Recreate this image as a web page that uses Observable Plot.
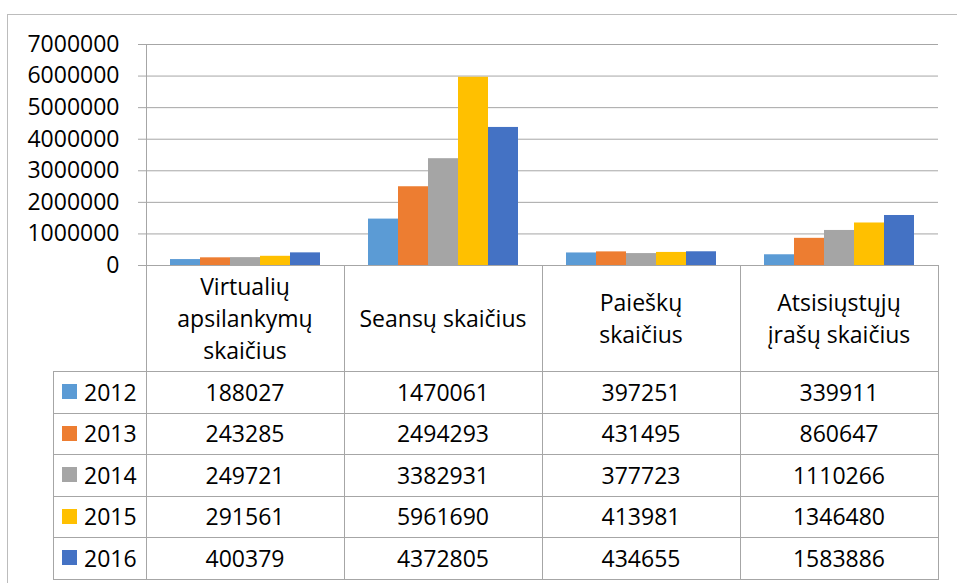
<!DOCTYPE html>
<html><head><meta charset="utf-8">
<script src="https://cdn.jsdelivr.net/npm/d3@7"></script>
<script src="https://cdn.jsdelivr.net/npm/@observablehq/plot@0.6"></script>
<style>
body{margin:0;background:#fff;}
#wrap{position:relative;width:957px;height:583px;overflow:hidden;font-family:"Open Sans",sans-serif;color:#000;}
#outer{position:absolute;left:7px;top:14px;width:1000px;height:1000px;border-left:1px solid #bcbcbc;border-top:1px solid #bcbcbc;box-sizing:border-box;}
#chart{position:absolute;left:0;top:0;}
.ln{position:absolute;background:#a6a6a6;}
.cell{position:absolute;display:flex;align-items:center;justify-content:center;text-align:center;font-size:23px;}
.hdr{line-height:32px;}
.sw{position:absolute;width:15px;height:15px;}
.yr{position:absolute;font-size:23px;display:flex;align-items:center;}
</style></head><body>
<div id="wrap"><div id="outer"></div><div id="chart"></div></div>
<script>
const categories = ["Virtualių apsilankymų skaičius", "Seansų skaičius", "Paieškų skaičius", "Atsisiųstųjų įrašų skaičius"];
const categoryLines = [["Virtualių", "apsilankymų", "skaičius"], ["Seansų skaičius"], ["Paieškų", "skaičius"], ["Atsisiųstųjų", "įrašų skaičius"]];
const years = ["2012", "2013", "2014", "2015", "2016"];
const values2012 = [188027, 1470061, 397251, 339911];
const values2013 = [243285, 2494293, 431495, 860647];
const values2014 = [249721, 3382931, 377723, 1110266];
const values2015 = [291561, 5961690, 413981, 1346480];
const values2016 = [400379, 4372805, 434655, 1583886];
const colors = ["#5B9BD5", "#ED7D31", "#A5A5A5", "#FFC000", "#4472C4"];
const yTicks = [0, 1000000, 2000000, 3000000, 4000000, 5000000, 6000000, 7000000];

const series = [values2012, values2013, values2014, values2015, values2016];
const data = [];
years.forEach((yr, i) => categories.forEach((c, j) => data.push({cat: c, year: yr, value: series[i][j]})));

const chart = Plot.plot({
  width: 957, height: 266,
  marginLeft: 145, marginRight: 18, marginTop: 44, marginBottom: 1,
  style: {fontFamily: '"Open Sans", sans-serif', fontSize: "23px", color: "#000", background: "transparent", overflow: "visible"},
  fx: {domain: categories, padding: 0, axis: null},
  x: {domain: years, paddingInner: 0, paddingOuter: 0.75, axis: null},
  y: {domain: [0, 7000000]},
  color: {domain: years, range: colors},
  marks: [
    Plot.gridY(yTicks, {stroke: "#a6a6a6", strokeOpacity: 1}),
    Plot.axisY(yTicks, {tickSize: 8, tickPadding: 19, stroke: "#a6a6a6", fill: "#000", tickFormat: d => String(d), fontSize: 23, label: null}),
    Plot.barY(data, {fx: "cat", x: "year", y: "value", fill: "year"})
  ]
});
document.getElementById("chart").appendChild(chart);

const wrap = document.getElementById("wrap");
const fx = chart.scale("fx");
const ys = chart.scale("y");
const bw = fx.bandwidth;
const top0 = Math.round(ys.apply(0));
const topMax = Math.round(ys.apply(7000000));
const legLeft = 53;
const headerH = 106;
const rowH = 41.5;
const xs = categories.map(c => fx.apply(c));
const xLeft = Math.round(xs[0]);
const xRight = Math.round(xs[xs.length - 1] + bw);
const bottom = top0 + headerH + rowH * years.length;

function line(x, y, w, h) {
  const d = document.createElement("div");
  d.className = "ln";
  d.style.left = x + "px"; d.style.top = y + "px"; d.style.width = w + "px"; d.style.height = h + "px";
  wrap.appendChild(d);
}
line(xLeft, top0, xRight - xLeft + 1, 1);
for (let k = 0; k <= years.length; k++) {
  line(legLeft, Math.round(top0 + headerH + k * rowH), xRight - legLeft + 1, 1);
}
line(legLeft, top0 + headerH, 1, Math.round(bottom - top0 - headerH) + 1);
line(xLeft, topMax, 1, Math.round(bottom - topMax) + 1);
xs.forEach(x => line(Math.round(x + bw), top0, 1, Math.round(bottom - top0) + 1));

categories.forEach((c, j) => {
  const d = document.createElement("div");
  d.className = "cell hdr";
  d.style.left = xs[j] + "px"; d.style.top = top0 + "px";
  d.style.width = bw + "px"; d.style.height = headerH + "px";
  d.innerHTML = categoryLines[j].join("<br>");
  wrap.appendChild(d);
});
years.forEach((yr, i) => {
  const rt = top0 + headerH + i * rowH;
  const sw = document.createElement("div");
  sw.className = "sw";
  sw.style.left = (legLeft + 9) + "px";
  sw.style.top = (rt + rowH / 2 - 7.5) + "px";
  sw.style.background = colors[i];
  wrap.appendChild(sw);
  const t = document.createElement("div");
  t.className = "yr";
  t.style.left = (legLeft + 31) + "px"; t.style.top = rt + "px"; t.style.height = rowH + "px";
  t.textContent = yr;
  wrap.appendChild(t);
  categories.forEach((c, j) => {
    const d = document.createElement("div");
    d.className = "cell";
    d.style.left = xs[j] + "px"; d.style.top = rt + "px";
    d.style.width = bw + "px"; d.style.height = rowH + "px";
    d.textContent = String(series[i][j]);
    wrap.appendChild(d);
  });
});
</script>
</body></html>
